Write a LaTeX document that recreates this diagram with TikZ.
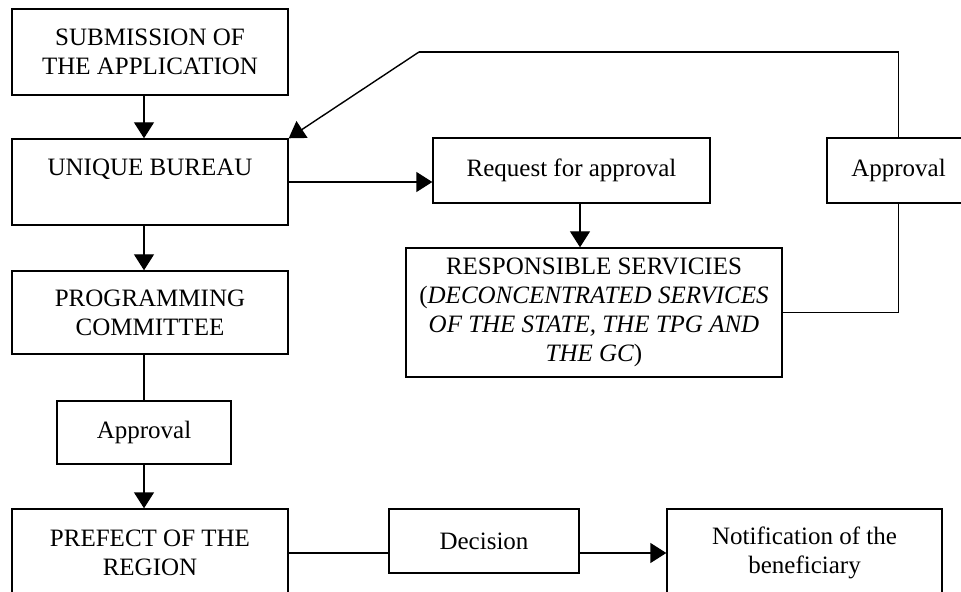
\documentclass[tikz,border=0pt]{standalone}
\usepackage{fontspec}
\setmainfont{Liberation Serif}
\usetikzlibrary{arrows.meta, calc, positioning}

\tikzset{
	box/.style={draw, line width=0.7pt, rectangle, inner sep=0pt, align=center, font=\fontsize{12.5}{14.5}\selectfont},
	arr/.style={line width=0.7pt, -{Triangle[length=8pt, width=10pt]}},
	link/.style={line width=0.7pt}
}

\begin{document}
\begin{tikzpicture}[x=0.5pt, y=-0.5pt]
		\useasboundingbox (0,0) rectangle (961,592);
		
		% Left column
		\node[box, minimum width=138pt, minimum height=43pt] (submit) at (150,52) {SUBMISSION OF\\THE APPLICATION};
		\node[box, minimum width=138pt, minimum height=43pt] (bureau) at (150,182) {UNIQUE BUREAU\\\mbox{}};
		\node[box, minimum width=138pt, minimum height=41.5pt] (progcom) at (150,312.5) {PROGRAMMING\\COMMITTEE};
		\node[box, minimum width=87pt, minimum height=31.5pt] (apprleft) at (144,432.5) {Approval};
		\node[box, minimum width=138pt, minimum height=44pt] (prefect) at (150,553) {PREFECT OF THE\\REGION};
		
		% Services branch
		\node[box, minimum width=138.5pt, minimum height=32.5pt] (request) at (571.5,170.5) {Request for approval};
		\node[box, minimum width=188pt, minimum height=64.5pt] (services) at (594,312.5) {RESPONSIBLE SERVICIES\\({\itshape DECONCENTRATED SERVICES}\\{\itshape OF THE STATE, THE TPG AND}\\{\itshape THE GC})};
		\node[box, minimum width=71.5pt, minimum height=32.5pt] (apprright) at (898.5,170.5) {Approval};
		
		% Bottom row
		\node[box, minimum width=95pt, minimum height=32pt] (decision) at (484,541) {Decision};
		\node[box, minimum width=137.5pt, minimum height=44pt] (notify) at (804.5,553) {Notification of the\\beneficiary};
		
		\coordinate (bend) at (419,52);
		
		% Connectors
		\draw[arr] (submit.south -| apprleft.north) -- (bureau.north -| apprleft.north);
		\draw[arr] (bureau.south -| apprleft.north) -- (progcom.north -| apprleft.north);
		\draw[link] (progcom.south -| apprleft.north) -- (apprleft.north);
		\draw[arr] (apprleft.south) -- (prefect.north -| apprleft.south);
		\draw[arr] (bureau.east) -- (bureau.east -| request.west);
		\draw[arr] ([xshift=4.25pt]request.south) -- ([xshift=4.25pt]request.south |- services.north);
		\draw[link] (services.east) -| (apprright.south);
		\draw[link] (apprright.north) |- (bend);
		\draw[arr] (bend) -- (bureau.north east);
		\draw[link] (prefect.east) -- (prefect.east -| decision.west);
		\draw[arr] (notify.west -| decision.east) -- (notify.west);
	\end{tikzpicture}
\end{document}
